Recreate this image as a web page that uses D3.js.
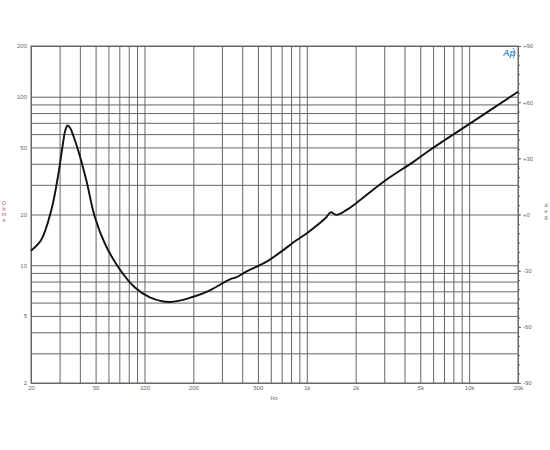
<!DOCTYPE html>
<html>
<head>
<meta charset="utf-8">
<script src="https://cdn.jsdelivr.net/npm/d3@7"></script>
<style>
  html, body { margin: 0; padding: 0; background: #fff; }
  svg { display: block; }
</style>
</head>
<body>
<script>
// ---- data ----
const freqHz = [20, 23.1, 26.7, 29.3, 31.5, 32.5, 33.6, 34.8, 36.5, 39, 43.8, 49.4, 56.9, 68.7, 87, 108, 143.6, 200, 253, 336, 370, 426, 566, 868, 1002, 1300, 1404, 1526, 1760, 2032, 2972, 4560, 5740, 10160, 20000];
const impedanceOhm = [12.2, 14.1, 21.3, 33.5, 53, 63, 67.5, 65.5, 58.5, 48.3, 32, 19.4, 13.5, 9.8, 7.4, 6.45, 6.05, 6.5, 7.1, 8.25, 8.5, 9.2, 10.5, 14.1, 15.5, 19, 20.6, 19.9, 21.3, 23.5, 31.3, 41.2, 48.3, 69.5, 107];
const xTickValues = [20, 50, 100, 200, 500, 1000, 2000, 5000, 10000, 20000];
const xTickLabels = ["20", "50", "100", "200", "500", "1k", "2k", "5k", "10k", "20k"];
const yTickValues = [2, 5, 10, 20, 50, 100, 200];
const yTickLabels = ["2", "5", "10", "20", "50", "100", "200"];
const phaseTickValues = [-90, -60, -30, 0, 30, 60, 90];
const phaseTickLabels = ["-90", "-60", "-30", "+0", "+30", "+60", "+90"];
const xGridValues = [20,30,40,50,60,70,80,90,100,200,300,400,500,600,700,800,900,1000,2000,3000,4000,5000,6000,7000,8000,9000,10000,20000];
const yGridValues = [2,3,4,5,6,7,8,9,10,20,30,40,50,60,70,80,90,100,200];

// ---- layout ----
const W = 550, H = 450;
const L = 31, R = 518, T = 46, B = 383;
const labelColor = "#666";
const gridColor = "#666";
const fontFam = "'Liberation Sans', Arial, sans-serif";

const svg = d3.select("body").append("svg").attr("width", W).attr("height", H);

const x = d3.scaleLog().domain([20, 20000]).range([L, R]);
const y = d3.scaleLog().domain([2, 200]).range([B, T]);
const yP = d3.scaleLinear().domain([-90, 90]).range([B, T]);

// grid
const gx = svg.append("g").attr("transform", `translate(0,${B})`)
  .call(d3.axisBottom(x).tickValues(xGridValues).tickSize(-(B - T)).tickFormat(""));
gx.select(".domain").remove();
gx.selectAll(".tick line").attr("stroke", gridColor).attr("stroke-width", 1);

const gy = svg.append("g").attr("transform", `translate(${L},0)`)
  .call(d3.axisLeft(y).tickValues(yGridValues).tickSize(-(R - L)).tickFormat(""));
gy.select(".domain").remove();
gy.selectAll(".tick line").attr("stroke", gridColor).attr("stroke-width", 1);

// frame
svg.append("rect").attr("x", L).attr("y", T).attr("width", R - L).attr("height", B - T)
  .attr("fill", "none").attr("stroke", gridColor).attr("stroke-width", 1);

// x labels
const ax = svg.append("g").attr("transform", `translate(0,${B})`)
  .call(d3.axisBottom(x).tickValues(xTickValues).tickSize(0).tickPadding(3)
    .tickFormat((d, i) => xTickLabels[i]));
ax.select(".domain").remove();
ax.selectAll("text").attr("fill", labelColor).attr("font-size", 6).attr("font-family", fontFam);

// y labels (left)
const ay = svg.append("g").attr("transform", `translate(${L},0)`)
  .call(d3.axisLeft(y).tickValues(yTickValues).tickSize(0).tickPadding(4)
    .tickFormat((d, i) => yTickLabels[i]));
ay.select(".domain").remove();
ay.selectAll("text").attr("fill", labelColor).attr("font-size", 6).attr("font-family", fontFam);

// right phase axis with minor ticks
const minor = d3.range(-90, 91, 5);
const ayMinor = svg.append("g").attr("transform", `translate(${R},0)`)
  .call(d3.axisRight(yP).tickValues(minor).tickSize(2).tickFormat(""));
ayMinor.select(".domain").attr("stroke", gridColor);
ayMinor.selectAll(".tick line").attr("stroke", gridColor);
const ap = svg.append("g").attr("transform", `translate(${R},0)`)
  .call(d3.axisRight(yP).tickValues(phaseTickValues).tickSize(3).tickPadding(2)
    .tickFormat((d, i) => phaseTickLabels[i]));
ap.select(".domain").remove();
ap.selectAll(".tick line").attr("stroke", gridColor);
ap.selectAll("text").attr("fill", labelColor).attr("font-size", 6).attr("font-family", fontFam);

// axis titles
svg.append("text").attr("x", 274).attr("y", 400).attr("text-anchor", "middle")
  .attr("fill", labelColor).attr("font-size", 6).attr("font-family", fontFam).text("Hz");
["O", "h", "m", "s"].forEach((c, i) => {
  svg.append("text").attr("x", 4).attr("y", 205 + i * 5.5).attr("text-anchor", "middle")
    .attr("fill", "#a05a6e").attr("font-size", 5.5).attr("font-family", fontFam).text(c);
});
["d", "e", "g"].forEach((c, i) => {
  svg.append("text").attr("x", 546).attr("y", 207 + i * 6).attr("text-anchor", "middle")
    .attr("fill", labelColor).attr("font-size", 5.5).attr("font-family", fontFam).text(c);
});

// Ap logo
svg.append("text").attr("x", 503).attr("y", 56).attr("fill", "#4a90c8")
  .attr("font-size", 9).attr("font-style", "italic").attr("font-weight", "bold")
  .attr("font-family", fontFam).text("Ap");
svg.append("path").attr("d", "M513,48 Q517,52 513,58").attr("fill", "none")
  .attr("stroke", "#4a90c8").attr("stroke-width", 1);

// impedance curve
const data = freqHz.map((f, i) => [f, impedanceOhm[i]]);
const line = d3.line().x(d => x(d[0])).y(d => y(d[1])).curve(d3.curveCatmullRom.alpha(0.5));
svg.append("path").datum(data).attr("d", line).attr("fill", "none")
  .attr("stroke", "#111").attr("stroke-width", 1.9).attr("stroke-linejoin", "round");
</script>
</body>
</html>
